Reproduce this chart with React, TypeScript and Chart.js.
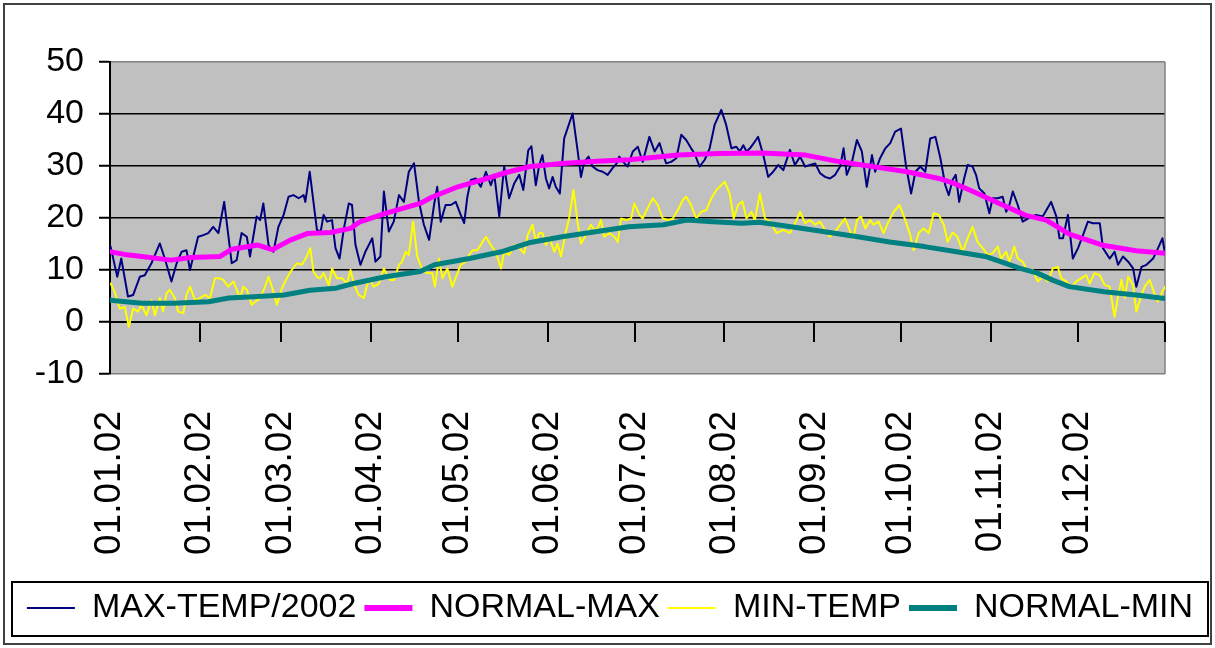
import { useEffect, useRef } from "react";
import { Chart, registerables } from "chart.js";

Chart.register(...registerables);

const FONT = "'Liberation Sans', Arial, Helvetica, sans-serif";

// x axis: day of year 2002 (0 = 01.01.02)
const monthDays = [0, 31, 59, 90, 120, 151, 181, 212, 243, 273, 304, 334];
const monthLabels = ["01.01.02", "01.02.02", "01.03.02", "01.04.02", "01.05.02", "01.06.02", "01.07.02", "01.08.02", "01.09.02", "01.10.02", "01.11.02", "01.12.02"];
const lastDay = 364;

const seriesNames = ["MAX-TEMP/2002", "NORMAL-MAX", "MIN-TEMP", "NORMAL-MIN"];
const seriesColors = ["#000080", "#FF00FF", "#FFFF00", "#008080"];

// MAX-TEMP/2002
const maxDays = [0.2, 2.5, 3.9, 6.2, 8, 10.3, 12, 14.3, 17.2, 18.9, 21.2, 23, 24.7, 26.4, 27.6, 30.4, 32.2, 33.9, 35.6, 37.4, 39.4, 42, 43.7, 45.4, 47.2, 48.3, 50.6, 51.8, 52.9, 54.7, 56.4, 58.1, 59.9, 61.6, 63.3, 65.1, 66.8, 67.4, 68.9, 71.4, 72.7, 73.7, 74.9, 76.6, 77.8, 79.2, 80.7, 82.4, 83.5, 84.7, 86.4, 88.1, 90.5, 91.6, 93.3, 94.5, 96.2, 97.9, 99.7, 101.4, 103.1, 104.9, 106.6, 108.3, 110.1, 111.8, 112.9, 114.1, 115.8, 117.6, 119.3, 121, 122.2, 123.3, 124.5, 126.2, 127.9, 129.7, 131.4, 132.6, 134.3, 136, 137.7, 139.5, 141.2, 142.6, 144.3, 145.4, 146.9, 148.1, 149.2, 150.4, 151.5, 152.7, 153.8, 155.2, 156.7, 159.6, 161.3, 162.5, 163.6, 165.1, 166.5, 168.2, 170, 171.7, 173.4, 174.8, 175.7, 177.5, 178.6, 180.4, 182.1, 183.8, 186.1, 187.9, 189.6, 190.7, 191.9, 193.6, 195.4, 197.1, 198.8, 200.5, 201.7, 203.4, 205.2, 206.9, 208.6, 210.9, 212.6, 214.4, 216.1, 217.3, 218.5, 219.6, 220.8, 222.5, 223.6, 225.4, 227.1, 228.8, 230.6, 232.3, 234.6, 236.3, 238.1, 239.8, 241.5, 243.3, 245, 246.7, 248.4, 250.2, 251.9, 253.1, 254.2, 256, 257.7, 259.4, 261.1, 262.9, 264, 265.7, 267.5, 269.2, 270.9, 272.9, 274.6, 276.4, 277.9, 279.6, 281.3, 283, 284.8, 286.5, 288.2, 289.4, 290.7, 291.8, 293, 294.7, 295.9, 297.6, 298.8, 299.9, 301.7, 303.4, 304.5, 306.3, 308, 309.2, 310.3, 311.5, 313.2, 314.9, 316.7, 319.5, 321.8, 324.7, 326.5, 327.6, 328.8, 330.5, 332.2, 334, 335.7, 337.4, 339.1, 341.5, 342.6, 344.9, 346.6, 347.8, 349.5, 351.3, 353, 354.1, 355.9, 357.6, 359.9, 361.6, 363.1, 364];
const maxVals = [14.5, 8.7, 12.2, 4.9, 5.2, 8.7, 9, 11.3, 15.1, 12.2, 7.8, 11.3, 13.5, 13.8, 10, 16.4, 16.7, 17.1, 18.3, 17.1, 23.1, 11.3, 11.9, 17.1, 16.4, 12.6, 20.3, 19.6, 22.8, 14.8, 13.5, 18.3, 20.6, 24.1, 24.4, 23.8, 24.4, 23.1, 28.9, 17.7, 17.4, 20.6, 19.3, 19.6, 14.2, 12.2, 18, 22.8, 22.5, 14.8, 11, 13.5, 16.1, 11.6, 12.6, 25.1, 17.4, 19.3, 24.4, 23.1, 28.9, 30.5, 23.1, 18.7, 15.8, 22.5, 26, 19.3, 22.5, 22.5, 23.1, 20.6, 19, 24.1, 27.3, 27.6, 26, 28.9, 26.3, 28.3, 20.3, 29.9, 23.8, 26.7, 28.3, 25.4, 33, 33.8, 26.3, 30.2, 32.1, 27.6, 25.7, 27.9, 26, 24.7, 35.3, 40.1, 33.1, 27.9, 30.8, 31.8, 29.9, 29.2, 28.9, 28.3, 29.6, 30.5, 31.8, 30.5, 29.9, 32.8, 33.7, 30.8, 35.6, 32.8, 34.4, 32.4, 30.5, 30.8, 31.5, 36, 35, 33.4, 32.4, 29.9, 31.2, 33.4, 37.9, 40.8, 37.9, 33.4, 33.7, 32.8, 34, 32.8, 33.4, 34.7, 35.6, 32.1, 27.9, 28.9, 30.2, 29.2, 33.1, 30.2, 31.8, 29.9, 30.2, 30.5, 28.6, 27.9, 27.6, 28.3, 29.9, 33.4, 28.3, 30.8, 35, 32.8, 26, 32.1, 28.9, 31.5, 33.4, 34.4, 36.6, 37.2, 30.2, 24.7, 28.9, 29.9, 28.9, 35.3, 35.6, 31.5, 26.3, 24.4, 27.3, 28.3, 23.1, 27.6, 30.2, 29.9, 28.3, 25.7, 24.7, 20.9, 23.8, 23.8, 24.1, 21.2, 22.5, 25.1, 22.5, 19.3, 19.9, 20.6, 20.3, 23.1, 20.3, 16.1, 16.1, 20.6, 12.2, 14.2, 16.7, 19.3, 19, 19, 14.2, 12.2, 13.5, 11, 12.6, 11.6, 10.3, 6.8, 10.6, 11, 12.2, 14.2, 16.1, 13.2];

// NORMAL-MAX
const normMaxDays = [0, 5, 11, 21, 28, 38, 42, 51, 56, 62, 68, 76, 83, 86, 95, 107, 111, 120, 130, 137, 145, 156, 168, 179, 196, 210, 225, 240, 252, 263, 275, 286, 291, 297, 308, 316, 323, 331, 343, 354, 364];
const normMaxVals = [13.5, 13, 12.6, 11.9, 12.4, 12.6, 14, 14.8, 13.9, 15.7, 17, 17.2, 18, 19.2, 20.9, 22.8, 24, 26, 27.6, 28.8, 29.9, 30.5, 30.9, 31.2, 32.1, 32.4, 32.5, 32.1, 30.8, 29.9, 28.9, 27.6, 26.7, 25.3, 22.5, 20.5, 19.6, 16.9, 14.7, 13.7, 13.2];

// MIN-TEMP
const minDays = [0.2, 1.6, 3.3, 5.1, 6.5, 8, 9.7, 10.8, 12.6, 14.3, 15.5, 17.2, 18.3, 19.5, 20.6, 22.4, 23.5, 25.3, 26.4, 27.6, 29.3, 31, 32.8, 34.5, 36.2, 37.9, 39.1, 40.8, 42.6, 43.7, 44.9, 46, 47.2, 48.9, 50.1, 51.8, 53.5, 54.7, 56.4, 57.6, 59.3, 61, 62.7, 64.5, 66.2, 67.9, 69.1, 70.2, 71.4, 72.5, 73.7, 75.5, 76.6, 78.3, 80.1, 81.8, 83, 84.1, 85.8, 87.6, 89.3, 91, 92.8, 94.5, 95.6, 96.8, 98, 99.7, 100.8, 102, 103.1, 104.6, 106, 107.8, 109.5, 111.2, 112.1, 113.5, 114.7, 116.4, 118.1, 119.9, 121, 122.7, 123.9, 125.1, 126.8, 128.5, 129.7, 131.4, 133.1, 134.9, 136, 137.7, 139.5, 141.2, 142.9, 144.1, 145.8, 146.9, 148.1, 149.2, 150.4, 151.5, 153.3, 154.4, 155.6, 157.3, 158.4, 159.9, 161.3, 162.5, 163.6, 164.8, 165.9, 167.1, 168.2, 169.4, 170.5, 172.3, 174, 175.2, 176.3, 178.1, 179.8, 180.9, 182.7, 183.8, 185.5, 187.3, 189, 190.7, 192.5, 194.2, 195.9, 197.7, 198.8, 200.5, 202.3, 204, 205.7, 207.5, 209.2, 212.1, 213.8, 215.2, 216.7, 218.2, 219.6, 221.3, 222.5, 224.2, 226, 227.7, 230, 232.3, 234.6, 236.9, 238.1, 239.8, 241.5, 243.3, 245, 246.7, 248.4, 250.2, 251.9, 253.6, 255.4, 256.5, 257.7, 259.1, 260.6, 262.3, 263.4, 265.2, 266.9, 268.6, 270.4, 272.4, 274.4, 276.1, 277.3, 279, 280.7, 282.5, 284.2, 285.9, 287.7, 289, 290.7, 292.4, 294.2, 295.9, 297.6, 299.3, 301.1, 302.8, 304.5, 306.3, 307.4, 309.2, 310.3, 312, 313.2, 314.9, 316.7, 318.4, 320.1, 321.8, 323.6, 325.3, 327, 328.2, 329.9, 331.6, 333.4, 335.1, 336.8, 338, 339.7, 341.5, 343.2, 344.9, 346.6, 347.8, 349, 350.1, 351.3, 353, 354.1, 355.9, 357, 358.7, 360.5, 361.6, 363.1, 364];
const minVals = [7.4, 5.8, 2.6, 2.9, -0.9, 2.6, 2, 3.3, 1.3, 4.2, 1.3, 4.6, 2, 5.5, 6.2, 4.6, 2, 1.7, 5.2, 6.8, 4.2, 4.6, 5.2, 4.6, 8.4, 8.4, 8.1, 6.8, 7.8, 6.2, 4.6, 6.8, 6.2, 3.3, 3.9, 4.6, 6.8, 8.7, 5.8, 3.3, 6.5, 8.4, 10, 11.3, 11, 12.6, 14.2, 9.7, 8.7, 8.4, 9.4, 7.1, 10.3, 8.4, 8.4, 7.4, 10, 7.4, 5.2, 4.6, 8.4, 6.8, 7.4, 10.3, 9, 8.1, 8.1, 11, 11.6, 13.5, 12.9, 19.3, 12.6, 10, 9.4, 9.4, 6.8, 12.2, 8.4, 10.3, 6.8, 9.4, 11, 11.6, 12.9, 13.8, 13.8, 15.4, 16.4, 14.8, 13.5, 10.3, 13.5, 12.9, 14.8, 14.2, 13.2, 16.7, 18.7, 15.4, 17.1, 17.1, 14.8, 16.4, 13.5, 15.1, 12.6, 17.4, 19.9, 25.4, 19.3, 15.1, 16.1, 17.4, 18.7, 17.7, 18, 19.6, 16.4, 17.1, 16.4, 15.4, 19.9, 19.6, 19.9, 22.8, 20.6, 19.9, 21.9, 23.8, 22.5, 19.9, 19.6, 19.9, 21.5, 23.5, 24.1, 22.5, 19.9, 21.2, 21.5, 23.8, 25.4, 27, 24.7, 19.9, 22.5, 23.2, 19.9, 21.2, 19.6, 24.7, 19.9, 19.3, 17.1, 17.7, 17.1, 19.6, 21.2, 19, 19.6, 18.7, 19.3, 17.7, 16.4, 17.4, 18.7, 19.9, 17.4, 16.1, 19.6, 20.3, 18, 19.6, 18.7, 19.3, 17.1, 19.3, 21.2, 22.5, 19.6, 16.7, 13.8, 17.1, 18, 17.1, 20.9, 20.6, 18.7, 15.4, 17.2, 16.4, 13.5, 16.1, 18.3, 15.4, 14.2, 12.9, 13.2, 14.5, 12.2, 13.5, 11.6, 14.5, 12.2, 11.6, 9.7, 10, 7.8, 8.7, 7.8, 10.3, 10.6, 8.4, 7.8, 6.8, 7.8, 8.4, 9, 7.4, 9.4, 9, 7.1, 6.8, 1, 4.9, 8.1, 4.6, 8.7, 7.1, 2, 5.2, 6.8, 8.1, 5.2, 3.9, 5.8, 6.8];

// NORMAL-MIN
const normMinDays = [0, 11, 22, 34, 41, 51, 60, 69, 78, 84, 95, 107, 112, 124, 135, 145, 156, 168, 179, 191, 199, 208, 218, 224, 235, 246, 258, 269, 281, 291, 302, 314, 320, 325, 331, 343, 354, 364];
const normMinVals = [4.2, 3.6, 3.6, 3.9, 4.6, 4.9, 5.2, 6.1, 6.5, 7.4, 8.7, 9.7, 11, 12.2, 13.5, 15.3, 16.4, 17.4, 18.3, 18.7, 19.6, 19.3, 19, 19.2, 18.3, 17.4, 16.4, 15.4, 14.5, 13.6, 12.6, 10.3, 9.4, 8.1, 6.8, 5.8, 5.2, 4.5];

const yMin = -10;
const yMax = 50;
const yStep = 10;

const pts = (xs: number[], ys: number[]) => xs.map((x, i) => ({ x, y: ys[i] }));

const framePlugin = {
  id: "frame",
  beforeDraw(chart: any) {
    const { ctx, chartArea: a, width, height } = chart;
    ctx.save();
    ctx.fillStyle = "#FFFFFF";
    ctx.fillRect(0, 0, width, height);
    ctx.fillStyle = "#C0C0C0";
    ctx.fillRect(a.left, a.top, a.right - a.left, a.bottom - a.top);
    ctx.strokeStyle = "#404040";
    ctx.lineWidth = 2;
    ctx.strokeRect(4, 4, width - 8, height - 8);
    ctx.restore();
  },
  beforeDatasetsDraw(chart: any) {
    const { ctx, chartArea: a, scales } = chart;
    const y0 = scales.y.getPixelForValue(0);
    ctx.save();
    // right edge of plot area
    ctx.strokeStyle = "#808080";
    ctx.lineWidth = 1.5;
    ctx.beginPath();
    ctx.moveTo(a.right, a.top);
    ctx.lineTo(a.right, a.bottom);
    ctx.stroke();
    // category axis at zero with tick marks
    ctx.strokeStyle = "#000000";
    ctx.lineWidth = 2;
    ctx.beginPath();
    ctx.moveTo(a.left, y0);
    ctx.lineTo(a.right, y0);
    [...monthDays.slice(1), lastDay].forEach((d) => {
      const x = Math.round(scales.x.getPixelForValue(d));
      ctx.moveTo(x, y0);
      ctx.lineTo(x, y0 + 20);
    });
    ctx.stroke();
    ctx.restore();
  },
  afterDraw(chart: any) {
    const { ctx, legend } = chart;
    ctx.save();
    ctx.strokeStyle = "#000000";
    ctx.lineWidth = 2;
    ctx.strokeRect(12, legend.top - 1, 1196, legend.height + 2);
    ctx.restore();
  },
};

export default function App() {
  const ref = useRef<HTMLCanvasElement | null>(null);

  useEffect(() => {
    document.body.style.margin = "0";
    const canvas = ref.current;
    if (!canvas) return;
    const lineWidths = [2, 5, 2, 5];
    const chart = new Chart(canvas, {
      type: "line",
      data: {
        datasets: [
          { label: seriesNames[0], data: pts(maxDays, maxVals), borderColor: seriesColors[0], backgroundColor: seriesColors[0], borderWidth: lineWidths[0], order: 3 },
          { label: seriesNames[1], data: pts(normMaxDays, normMaxVals), borderColor: seriesColors[1], backgroundColor: seriesColors[1], borderWidth: lineWidths[1], order: 2 },
          { label: seriesNames[2], data: pts(minDays, minVals), borderColor: seriesColors[2], backgroundColor: seriesColors[2], borderWidth: lineWidths[2], order: 1 },
          { label: seriesNames[3], data: pts(normMinDays, normMinVals), borderColor: seriesColors[3], backgroundColor: seriesColors[3], borderWidth: lineWidths[3], order: 0 },
        ],
      },
      options: {
        animation: false,
        responsive: false,
        devicePixelRatio: 1,
        parsing: false as any,
        elements: {
          point: { radius: 0, hoverRadius: 0 },
          line: { tension: 0, borderJoinStyle: "round", borderCapStyle: "round", fill: false },
        },
        layout: { padding: { left: 12, right: 7, top: 62, bottom: 13 } },
        scales: {
          x: {
            type: "linear",
            min: 0,
            max: lastDay,
            afterBuildTicks: (s: any) => {
              s.ticks = monthDays.map((v) => ({ value: v }));
            },
            afterFit: (s: any) => {
              s.height = 209;
            },
            ticks: {
              autoSkip: false,
              minRotation: 90,
              maxRotation: 90,
              padding: 29,
              color: "#000",
              font: { family: FONT, size: 37 },
              callback: (_v: any, i: number) => monthLabels[i],
            },
            grid: { display: false },
            border: { display: false },
          },
          y: {
            type: "linear",
            min: yMin,
            max: yMax,
            afterFit: (s: any) => {
              s.width = 98;
            },
            ticks: {
              stepSize: yStep,
              padding: 15,
              color: "#000",
              font: { family: FONT, size: 34 },
            },
            grid: {
              color: (c: any) => (c.tick && (c.tick.value === yMax || c.tick.value === yMin) ? "#808080" : "#000000"),
              lineWidth: 1.5,
              tickLength: 11,
              tickColor: "#000000",
              tickWidth: 2,
            },
            border: { color: "#000000", width: 2 },
          },
          yR: {
            type: "linear",
            position: "right",
            afterFit: (s: any) => {
              s.width = 43;
            },
            ticks: { display: false },
            grid: { display: false, drawOnChartArea: false },
            border: { display: false },
          },
        },
        plugins: {
          tooltip: { enabled: false },
          legend: {
            position: "bottom",
            labels: {
              usePointStyle: true,
              pointStyleWidth: 48,
              padding: 8,
              color: "#000",
              font: { family: FONT, size: 34 },
              generateLabels: () =>
                seriesNames.map((name, i) => ({
                  text: name,
                  fillStyle: seriesColors[i],
                  strokeStyle: seriesColors[i],
                  lineWidth: lineWidths[i] + (i % 2 === 1 ? 1 : 0),
                  pointStyle: "line",
                  hidden: false,
                  fontColor: "#000",
                  datasetIndex: i,
                })),
            },
          },
        },
      } as any,
      plugins: [framePlugin],
    });
    return () => chart.destroy();
  }, []);

  return (
    <div style={{ width: 1215, height: 648 }}>
      <canvas ref={ref} width={1215} height={648} style={{ display: "block" }} />
    </div>
  );
}
